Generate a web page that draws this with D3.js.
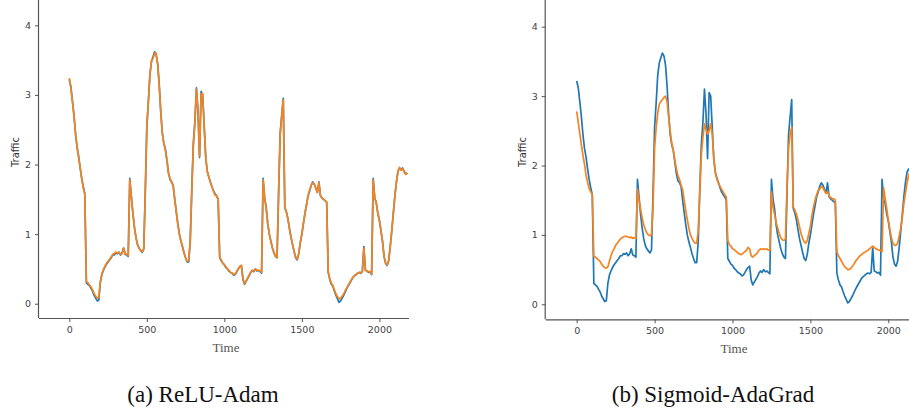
<!DOCTYPE html>
<html><head><meta charset="utf-8">
<script src="https://cdn.jsdelivr.net/npm/d3@7"></script>
<style>body{margin:0;background:#fff}svg{display:block}</style>
</head><body>
<svg id="c" width="909" height="412"></svg>
<script>
const timeStep = 10;
const actual = [
3.22,3.12,2.92,2.70,2.45,2.25,2.12,1.95,1.80,1.68,
1.58,0.30,0.28,0.26,0.22,0.18,0.12,0.08,0.04,0.05,
0.30,0.42,0.48,0.53,0.57,0.60,0.63,0.66,0.70,0.70,
0.73,0.72,0.74,0.70,0.73,0.80,0.71,0.70,0.68,1.80,
1.55,1.30,1.10,0.95,0.85,0.80,0.77,0.74,0.78,1.60,
2.55,2.90,3.30,3.48,3.55,3.62,3.58,3.45,3.15,2.75,
2.45,2.30,2.22,2.05,1.88,1.78,1.75,1.70,1.50,1.32,
1.15,1.00,0.90,0.82,0.73,0.66,0.60,0.60,0.90,1.65,
2.30,2.62,3.10,2.75,2.10,3.05,3.00,2.55,2.10,1.90,
1.82,1.75,1.68,1.62,1.58,1.55,1.50,0.66,0.62,0.58,
0.56,0.52,0.50,0.47,0.45,0.44,0.41,0.42,0.46,0.50,
0.53,0.55,0.35,0.28,0.32,0.36,0.40,0.45,0.48,0.46,
0.50,0.47,0.48,0.46,0.44,1.80,1.52,1.38,1.15,1.00,
0.90,0.80,0.73,0.68,0.66,1.60,2.45,2.70,2.95,1.38,
1.32,1.22,1.08,0.95,0.85,0.75,0.66,0.63,0.72,0.88,
1.00,1.15,1.30,1.42,1.55,1.62,1.70,1.75,1.72,1.66,
1.60,1.75,1.55,1.52,1.50,1.48,1.46,0.45,0.35,0.28,
0.25,0.18,0.12,0.07,0.02,0.04,0.08,0.12,0.17,0.22,
0.26,0.30,0.34,0.38,0.40,0.42,0.44,0.45,0.44,0.46,
0.82,0.48,0.47,0.45,0.46,0.42,1.80,1.52,1.45,1.30,
1.20,1.05,0.90,0.68,0.58,0.55,0.62,0.82,1.05,1.30,
1.55,1.75,1.90,1.95,1.92,1.95,1.90,1.86,1.88
];
const reluAdam = [
3.24,3.10,2.90,2.72,2.44,2.26,2.10,1.96,1.80,1.67,
1.57,0.32,0.30,0.27,0.24,0.20,0.15,0.11,0.08,0.09,
0.32,0.43,0.49,0.54,0.58,0.61,0.64,0.67,0.71,0.72,
0.74,0.73,0.74,0.71,0.72,0.80,0.72,0.71,0.69,1.78,
1.54,1.30,1.10,0.95,0.85,0.80,0.76,0.75,0.79,1.58,
2.52,2.92,3.28,3.50,3.52,3.60,3.60,3.44,3.12,2.76,
2.44,2.30,2.20,2.06,1.86,1.80,1.74,1.70,1.50,1.32,
1.14,1.00,0.90,0.82,0.73,0.66,0.61,0.62,0.90,1.62,
2.28,2.60,3.08,2.78,2.12,3.02,3.02,2.56,2.10,1.90,
1.82,1.74,1.68,1.62,1.56,1.55,1.50,0.67,0.63,0.58,
0.56,0.53,0.50,0.48,0.45,0.44,0.42,0.43,0.46,0.50,
0.54,0.55,0.36,0.29,0.32,0.37,0.41,0.45,0.48,0.47,
0.50,0.48,0.48,0.47,0.45,1.78,1.52,1.36,1.15,1.00,
0.90,0.80,0.74,0.68,0.67,1.58,2.42,2.70,2.93,1.38,
1.32,1.22,1.08,0.96,0.85,0.75,0.67,0.64,0.72,0.88,
1.00,1.16,1.30,1.42,1.55,1.63,1.70,1.74,1.72,1.66,
1.60,1.74,1.55,1.52,1.50,1.48,1.46,0.46,0.36,0.30,
0.26,0.20,0.14,0.10,0.07,0.08,0.11,0.14,0.19,0.23,
0.27,0.31,0.35,0.38,0.41,0.42,0.44,0.45,0.45,0.46,
0.80,0.48,0.47,0.46,0.46,0.43,1.78,1.52,1.45,1.30,
1.20,1.05,0.90,0.68,0.59,0.56,0.62,0.82,1.05,1.30,
1.55,1.75,1.90,1.96,1.92,1.94,1.90,1.86,1.88
];
const sigmoidAdaGrad = [
2.78,2.62,2.46,2.30,2.15,2.02,1.86,1.76,1.67,1.62,
1.58,0.69,0.68,0.66,0.64,0.62,0.58,0.55,0.53,0.52,
0.54,0.62,0.70,0.76,0.80,0.85,0.88,0.91,0.94,0.96,
0.97,0.98,0.98,0.97,0.96,0.97,0.95,0.96,0.95,1.66,
1.50,1.38,1.25,1.15,1.08,1.03,1.00,0.99,1.00,1.40,
2.25,2.55,2.75,2.88,2.92,2.95,2.98,3.00,2.92,2.70,
2.50,2.32,2.22,2.08,1.95,1.85,1.80,1.72,1.65,1.50,
1.35,1.22,1.10,1.00,0.95,0.91,0.88,0.88,1.05,1.60,
2.15,2.40,2.60,2.52,2.45,2.50,2.60,2.45,2.10,1.90,
1.80,1.75,1.70,1.66,1.62,1.58,1.55,0.92,0.86,0.84,
0.80,0.79,0.77,0.75,0.73,0.72,0.72,0.74,0.76,0.78,
0.82,0.80,0.70,0.68,0.70,0.72,0.74,0.78,0.80,0.79,
0.80,0.79,0.80,0.78,0.78,1.62,1.40,1.30,1.18,1.10,
1.02,0.96,0.93,0.92,0.94,1.70,2.25,2.45,2.55,1.40,
1.36,1.30,1.22,1.12,1.02,0.95,0.90,0.88,0.92,1.02,
1.12,1.28,1.40,1.50,1.58,1.64,1.66,1.70,1.68,1.64,
1.60,1.62,1.56,1.54,1.52,1.52,1.50,0.76,0.70,0.66,
0.62,0.58,0.54,0.52,0.50,0.50,0.52,0.55,0.58,0.62,
0.65,0.68,0.70,0.72,0.74,0.75,0.77,0.78,0.80,0.82,
0.84,0.82,0.80,0.79,0.78,0.78,0.76,1.68,1.52,1.38,
1.22,1.08,0.96,0.88,0.85,0.85,0.88,0.98,1.10,1.25,
1.45,1.60,1.75,1.85,1.92,1.95,1.98,1.96,1.94
];
const xTicks = [0, 500, 1000, 1500, 2000];
const yTicks = [0, 1, 2, 3, 4];
const captions = ["(a) ReLU-Adam", "(b) Sigmoid-AdaGrad"];
const xLabel = "Time";
const yLabel = "Traffic";

const svg = d3.select("#c");
const BLUE = "#1f77b4", ORANGE = "#f5841f", AXIS = "#555";

const panels = [
  {pred: reluAdam, caption: captions[0],
   x0: 39, x1: 409, y0: 318, y1: 0, xd: [-195.5, 2191], yd: [-0.205, 4.364],
   ylabX: 15, timeX: 226, timeY: 351.5, capX: 203},
  {pred: sigmoidAdaGrad, caption: captions[1],
   x0: 545.7, x1: 909, y0: 319.3, y1: 0, xd: [-199, 2133], yd: [-0.216, 4.385],
   ylabX: 522, timeX: 734, timeY: 352.5, capX: 713}
];

panels.forEach((p, i) => {
  const x = d3.scaleLinear().domain(p.xd).range([p.x0, p.x1]);
  const y = d3.scaleLinear().domain(p.yd).range([p.y0, p.y1]);
  const g = svg.append("g");
  const cid = "clip" + i;
  svg.append("clipPath").attr("id", cid).append("rect")
    .attr("x", p.x0).attr("y", p.y1).attr("width", p.x1 - p.x0).attr("height", p.y0 - p.y1);

  const line = d3.line().x((d, k) => x(k * timeStep)).y(d => y(d));
  const lg = g.append("g").attr("clip-path", `url(#${cid})`);
  lg.append("path").datum(actual).attr("d", line)
    .attr("fill", "none").attr("stroke", BLUE).attr("stroke-width", 1.7).attr("stroke-linejoin", "round");
  lg.append("path").datum(p.pred).attr("d", line)
    .attr("fill", "none").attr("stroke", ORANGE).attr("stroke-width", 1.7).attr("stroke-linejoin", "round");

  const fmt = d3.format("d");
  const xa = g.append("g").attr("transform", `translate(0,${p.y0})`)
    .call(d3.axisBottom(x).tickValues(xTicks).tickFormat(fmt).tickSize(4).tickPadding(4));
  const ya = g.append("g").attr("transform", `translate(${p.x0},0)`)
    .call(d3.axisLeft(y).tickValues(yTicks).tickFormat(fmt).tickSize(4).tickPadding(4));
  [xa, ya].forEach(a => {
    a.select(".domain").attr("stroke", AXIS).attr("stroke-width", 1.2);
    a.selectAll(".tick line").attr("stroke", AXIS).attr("stroke-width", 1);
    a.selectAll(".tick text").attr("fill", "#444")
      .style("font-family", "DejaVu Sans, sans-serif").style("font-size", "9.5px");
  });
  xa.select(".domain").attr("d", `M${p.x0},0.5H${p.x1}`);
  ya.select(".domain").attr("d", `M-0.5,${p.y0}V${p.y1}`);

  g.append("text").attr("transform", `translate(${p.ylabX},152) rotate(-90)`)
    .attr("text-anchor", "middle").attr("dy", "0.35em")
    .style("font-family", "DejaVu Sans, sans-serif").style("font-size", "10px").attr("fill", "#333")
    .text(yLabel);
  g.append("text").attr("x", p.timeX).attr("y", p.timeY).attr("text-anchor", "middle")
    .style("font-family", "Liberation Serif, Times New Roman, serif").style("font-size", "13px").attr("fill", "#555")
    .text(xLabel);
  g.append("text").attr("x", p.capX).attr("y", 402).attr("text-anchor", "middle")
    .style("font-family", "Liberation Serif, Times New Roman, serif").style("font-size", "23px").attr("fill", "#111")
    .text(p.caption);
});
</script>
</body></html>
